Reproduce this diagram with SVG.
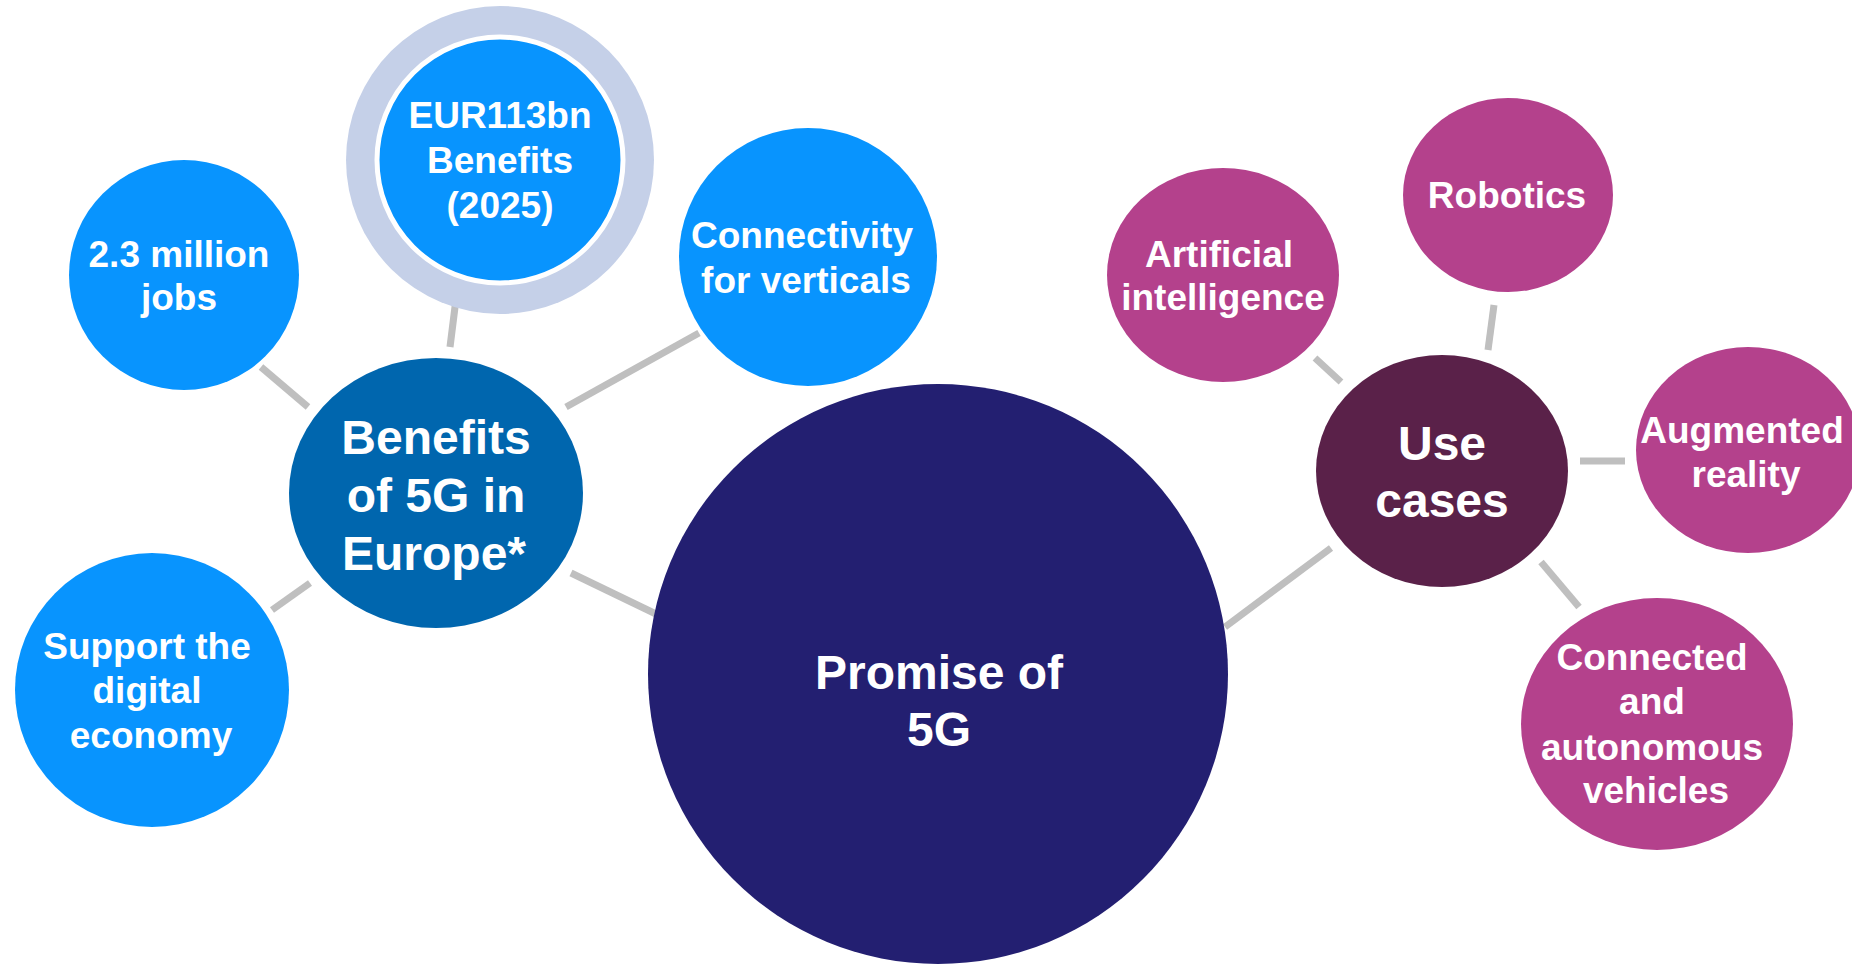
<svg xmlns="http://www.w3.org/2000/svg" width="1852" height="966" viewBox="0 0 1852 966">
<style>
.t{font-family:"Liberation Sans",Arial,sans-serif;font-weight:bold;fill:#fff;text-anchor:middle}
.s{font-size:37px}
.b{font-size:48px}
.lb{fill:#0894FE}
.pk{fill:#B4418C}
.cn line{stroke:#BFBFBF;stroke-width:7}
</style>
<rect width="1852" height="966" fill="#fff"/>
<g id="connectors" class="cn">
<line x1="261" y1="367" x2="308" y2="407"/>
<line x1="458" y1="283" x2="450" y2="347"/>
<line x1="566" y1="407" x2="699" y2="333"/>
<line x1="310" y1="583" x2="272" y2="610"/>
<line x1="571" y1="573" x2="656" y2="614"/>
<line x1="1225" y1="627" x2="1331" y2="548"/>
<line x1="1315" y1="358" x2="1341" y2="382"/>
<line x1="1494" y1="305" x2="1488" y2="350"/>
<line x1="1580" y1="461" x2="1625" y2="461"/>
<line x1="1541" y1="562" x2="1579" y2="607"/>
</g>
<g id="promise">
<circle cx="938" cy="674" r="290" fill="#231F71"/>
<text class="t b"><tspan x="939" y="689">Promise of</tspan><tspan x="939" y="746">5G</tspan></text>
</g>
<g id="jobs">
<circle class="lb" cx="184" cy="275" r="115"/>
<text class="t s"><tspan x="179" y="267">2.3 million</tspan><tspan x="179" y="310">jobs</tspan></text>
</g>
<g id="eur">
<circle cx="500" cy="160" r="154" fill="#C5D0E8"/>
<circle class="lb" cx="500" cy="160" r="123" stroke="#fff" stroke-width="5"/>
<text class="t s"><tspan x="500" y="128">EUR113bn</tspan><tspan x="500" y="173">Benefits</tspan><tspan x="500" y="218">(2025)</tspan></text>
</g>
<g id="connectivity">
<circle class="lb" cx="808" cy="257" r="129"/>
<text class="t s"><tspan x="802" y="248">Connectivity</tspan><tspan x="806" y="293">for verticals</tspan></text>
</g>
<g id="benefits">
<ellipse cx="436" cy="493" rx="147" ry="135" fill="#0066AE"/>
<text class="t b"><tspan x="436" y="454">Benefits</tspan><tspan x="436" y="512">of 5G in</tspan><tspan x="434" y="570">Europe*</tspan></text>
</g>
<g id="support">
<circle class="lb" cx="152" cy="690" r="137"/>
<text class="t s"><tspan x="147" y="659">Support the</tspan><tspan x="147" y="703">digital</tspan><tspan x="151" y="748">economy</tspan></text>
</g>
<g id="usecases">
<ellipse cx="1442" cy="471" rx="126" ry="116" fill="#5A2149"/>
<text class="t b"><tspan x="1442" y="460">Use</tspan><tspan x="1442" y="517">cases</tspan></text>
</g>
<g id="ai">
<ellipse class="pk" cx="1223" cy="275" rx="116" ry="107"/>
<text class="t s"><tspan x="1219" y="267">Artificial</tspan><tspan x="1223" y="310">intelligence</tspan></text>
</g>
<g id="robotics">
<ellipse class="pk" cx="1508" cy="195" rx="105" ry="97"/>
<text class="t s"><tspan x="1507" y="208">Robotics</tspan></text>
</g>
<g id="ar">
<ellipse class="pk" cx="1748" cy="450" rx="112" ry="103"/>
<text class="t s"><tspan x="1742" y="443">Augmented</tspan><tspan x="1746" y="487">reality</tspan></text>
</g>
<g id="cav">
<ellipse class="pk" cx="1657" cy="724" rx="136" ry="126"/>
<text class="t s"><tspan x="1652" y="670">Connected</tspan><tspan x="1652" y="714">and</tspan><tspan x="1652" y="760">autonomous</tspan><tspan x="1656" y="803">vehicles</tspan></text>
</g>
</svg>
